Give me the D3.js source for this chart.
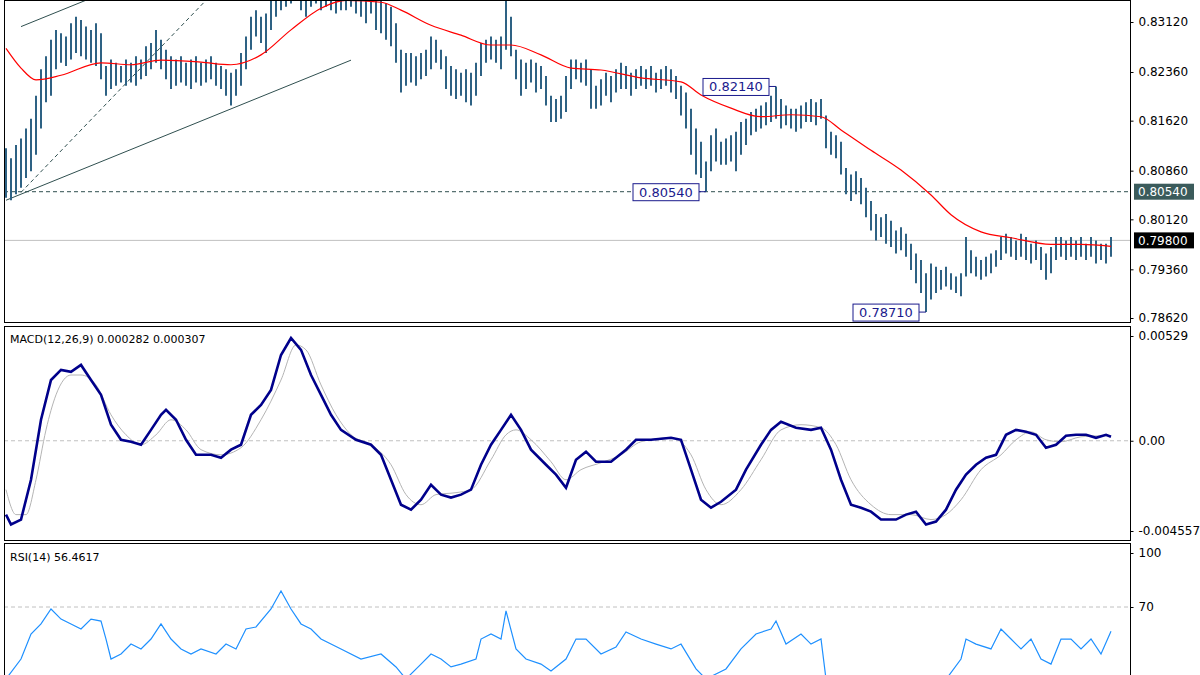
<!DOCTYPE html>
<html>
<head>
<meta charset="utf-8">
<style>
  body { margin:0; background:#fff; }
  text { font-family:"DejaVu Sans", sans-serif; font-size:11px; fill:#000; }
</style>
</head>
<body>
<div id="chart"></div>
<script src="https://d3js.org/d3.v7.min.js"></script>
<script>
// price bars: high / low per bar
const highs = [0.8120,0.8105,0.8125,0.8135,0.8150,0.8165,0.8200,0.8240,0.8260,0.8285,
  0.8300,0.8295,0.8290,0.8310,0.8320,0.8315,0.8305,0.8300,0.8310,0.8295,
  0.8245,0.8255,0.8250,0.8245,0.8255,0.8250,0.8260,0.8255,0.8275,0.8280,
  0.8300,0.8285,0.8270,0.8260,0.8255,0.8260,0.8250,0.8255,0.8260,0.8250,
  0.8255,0.8260,0.8250,0.8245,0.8240,0.8235,0.8240,0.8265,0.8290,0.8320,
  0.8330,0.8320,0.8325,0.8345,0.8360,0.8370,0.8375,0.8380,0.8385,0.8375,
  0.8370,0.8380,0.8385,0.8375,0.8370,0.8375,0.8370,0.8360,0.8365,0.8360,
  0.8365,0.8360,0.8355,0.8360,0.8355,0.8345,0.8340,0.8335,0.8310,0.8270,
  0.8265,0.8265,0.8260,0.8265,0.8270,0.8290,0.8285,0.8270,0.8260,0.8245,
  0.8240,0.8235,0.8240,0.8235,0.8250,0.8280,0.8285,0.8290,0.8285,0.8290,
  0.8350,0.8320,0.8270,0.8255,0.8250,0.8255,0.8250,0.8245,0.8230,0.8200,
  0.8195,0.8200,0.8230,0.8255,0.8255,0.8250,0.8255,0.8240,0.8215,0.8225,
  0.8235,0.8230,0.8240,0.8250,0.8245,0.8235,0.8240,0.8245,0.8240,0.8245,
  0.8235,0.8240,0.8245,0.8240,0.8230,0.8215,0.8205,0.8180,0.8150,0.8130,
  0.8100,0.8140,0.8150,0.8130,0.8135,0.8140,0.8145,0.8160,0.8165,0.8175,
  0.8180,0.8185,0.8190,0.8200,0.8214,0.8195,0.8185,0.8180,0.8180,0.8185,
  0.8190,0.8195,0.8190,0.8195,0.8170,0.8145,0.8140,0.8130,0.8090,0.8080,
  0.8085,0.8075,0.8060,0.8040,0.8020,0.8015,0.8020,0.8010,0.7995,0.8000,
  0.7990,0.7975,0.7960,0.7950,0.7930,0.7945,0.7940,0.7935,0.7940,0.7930,
  0.7925,0.7930,0.7985,0.7965,0.7955,0.7950,0.7955,0.7960,0.7965,0.7985,
  0.7990,0.7985,0.7980,0.7990,0.7985,0.7975,0.7980,0.7970,0.7960,0.7970,
  0.7985,0.7985,0.7980,0.7985,0.7980,0.7985,0.7975,0.7985,0.7980,0.7975,
  0.7975,0.7985];
const lows = [0.8045,0.8041,0.8050,0.8060,0.8075,0.8085,0.8110,0.8150,0.8190,0.8200,
  0.8240,0.8250,0.8245,0.8255,0.8265,0.8260,0.8255,0.8250,0.8245,0.8225,
  0.8200,0.8210,0.8215,0.8220,0.8215,0.8220,0.8215,0.8225,0.8230,0.8240,
  0.8250,0.8240,0.8225,0.8210,0.8215,0.8220,0.8215,0.8210,0.8220,0.8215,
  0.8220,0.8225,0.8215,0.8210,0.8200,0.8185,0.8200,0.8215,0.8240,0.8270,
  0.8290,0.8280,0.8265,0.8300,0.8320,0.8330,0.8335,0.8340,0.8345,0.8330,
  0.8320,0.8335,0.8340,0.8330,0.8335,0.8330,0.8325,0.8330,0.8330,0.8335,
  0.8325,0.8320,0.8310,0.8325,0.8300,0.8295,0.8285,0.8275,0.8250,0.8205,
  0.8215,0.8220,0.8215,0.8225,0.8230,0.8240,0.8250,0.8240,0.8210,0.8200,
  0.8195,0.8200,0.8190,0.8185,0.8200,0.8230,0.8250,0.8255,0.8250,0.8240,
  0.8270,0.8260,0.8225,0.8200,0.8210,0.8220,0.8205,0.8210,0.8185,0.8160,
  0.8160,0.8165,0.8175,0.8210,0.8225,0.8220,0.8215,0.8180,0.8180,0.8185,
  0.8200,0.8190,0.8205,0.8210,0.8210,0.8200,0.8210,0.8215,0.8210,0.8215,
  0.8205,0.8210,0.8215,0.8205,0.8195,0.8170,0.8150,0.8110,0.8080,0.8075,
  0.8054,0.8085,0.8100,0.8095,0.8095,0.8100,0.8085,0.8110,0.8125,0.8140,
  0.8145,0.8150,0.8155,0.8160,0.8165,0.8150,0.8155,0.8150,0.8145,0.8150,
  0.8160,0.8160,0.8155,0.8165,0.8120,0.8110,0.8105,0.8080,0.8050,0.8040,
  0.8050,0.8035,0.8015,0.7995,0.7980,0.7985,0.7975,0.7970,0.7960,0.7965,
  0.7955,0.7935,0.7915,0.7900,0.7871,0.7890,0.7900,0.7905,0.7910,0.7905,
  0.7900,0.7895,0.7925,0.7930,0.7925,0.7920,0.7925,0.7930,0.7940,0.7950,
  0.7960,0.7955,0.7950,0.7955,0.7950,0.7945,0.7950,0.7935,0.7920,0.7930,
  0.7950,0.7955,0.7950,0.7955,0.7950,0.7955,0.7950,0.7955,0.7945,0.7950,
  0.7945,0.7955];

// moving average: [bar index, value]
const maPts = [[0,0.8272],[3,0.8242],[6,0.8224],[11,0.8231],[19,0.8250],[25,0.8247],[31,0.8254],
  [39,0.8251],[45,0.8247],[51,0.8262],[57,0.8300],[63,0.8333],[68,0.8345],[75,0.8342],[79,0.8330],
  [85,0.8307],[91,0.8292],[97,0.8277],[101,0.8277],[107,0.8262],[113,0.8242],[119,0.8239],
  [127,0.8227],[135,0.8221],[139,0.8201],[145,0.8181],[151,0.8168],[157,0.8171],[163,0.8168],
  [167,0.8148],[173,0.8117],[179,0.8087],[185,0.8049],[189,0.8019],[195,0.7993],[201,0.7984],
  [209,0.7974],[215,0.7974],[221,0.7971]];

// MACD main and signal: [bar index, value]
const macdPts = [[0,-0.00373],[1,-0.00423],[3,-0.00398],[5,-0.00197],[7,0.00106],[9,0.00307],[11,0.00358],
  [13,0.00348],[15,0.00383],[17,0.00307],[19,0.00232],[21,0.00081],[23,0.00005],[25,-0.00005],[27,-0.00020],
  [29,0.00055],[31,0.00131],[32,0.00156],[34,0.00106],[36,0.00005],[38,-0.00071],[41,-0.00071],[43,-0.00086],
  [45,-0.00045],[47,-0.00020],[49,0.00131],[51,0.00181],[53,0.00257],[55,0.00433],[57,0.00519],[59,0.00459],
  [61,0.00332],[63,0.00232],[65,0.00131],[67,0.00055],[70,0.00005],[73,-0.00020],[75,-0.00071],[77,-0.00197],
  [79,-0.00323],[81,-0.00348],[83,-0.00298],[85,-0.00222],[87,-0.00272],[89,-0.00287],[91,-0.00272],[93,-0.00247],
  [95,-0.00121],[97,-0.00020],[99,0.00055],[101,0.00131],[103,0.00055],[105,-0.00045],[108,-0.00121],[110,-0.00171],
  [112,-0.00237],[114,-0.00096],[116,-0.00055],[118,-0.00106],[121,-0.00106],[124,-0.00045],[126,0.00005],
  [129,0.00005],[133,0.00015],[135,0.00005],[137,-0.00146],[139,-0.00298],[141,-0.00338],[143,-0.00308],
  [146,-0.00247],[148,-0.00146],[151,-0.00020],[153,0.00055],[155,0.00096],[158,0.00066],[161,0.00055],
  [163,0.00066],[165,-0.00045],[167,-0.00197],[169,-0.00323],[171,-0.00338],[173,-0.00358],[175,-0.00398],
  [178,-0.00398],[180,-0.00373],[182,-0.00358],[184,-0.00423],[186,-0.00408],[188,-0.00348],[190,-0.00247],
  [192,-0.00171],[194,-0.00121],[196,-0.00086],[198,-0.00071],[200,0.00030],[202,0.00055],[204,0.00045],
  [206,0.00030],[208,-0.00035],[210,-0.00020],[212,0.00025],[214,0.00030],[216,0.00030],[218,0.00015],
  [220,0.00030],[221,0.00020]];
const signalPts = [[0,-0.00247],[2,-0.00373],[4,-0.00373],[6,-0.00197],[8,0.00055],[10,0.00232],[13,0.00332],
  [15,0.00332],[18,0.00282],[21,0.00131],[24,0.00030],[27,-0.00020],[30,0.00030],[33,0.00106],[36,0.00055],
  [39,-0.00045],[43,-0.00071],[47,-0.00035],[51,0.00106],[55,0.00307],[58,0.00484],[60,0.00459],[63,0.00282],
  [66,0.00131],[69,0.00030],[73,-0.00020],[77,-0.00121],[80,-0.00272],[83,-0.00323],[86,-0.00272],[90,-0.00262],
  [93,-0.00247],[97,-0.00096],[100,0.00030],[102,0.00055],[105,0.00005],[109,-0.00106],[112,-0.00197],
  [115,-0.00146],[119,-0.00111],[123,-0.00071],[127,-0.00005],[133,0.00015],[137,-0.00071],[140,-0.00247],
  [143,-0.00323],[147,-0.00247],[151,-0.00096],[155,0.00055],[159,0.00081],[163,0.00066],[166,-0.00020],
  [169,-0.00197],[173,-0.00323],[177,-0.00373],[181,-0.00373],[185,-0.00398],[188,-0.00373],[191,-0.00298],
  [195,-0.00146],[199,-0.00071],[202,0.00005],[205,0.00045],[208,0.00005],[211,-0.00005],[215,0.00020],
  [219,0.00025],[221,0.00025]];

// RSI(14): [bar index, value]
const rsiPts = [[0,30.0],[3,41.1],[5,55.0],[7,60.6],[9,68.9],[11,63.3],[13,60.6],[15,57.8],[17,63.3],[19,62.2],
  [20,52.2],[21,41.1],[23,43.9],[25,49.4],[27,46.7],[29,52.2],[31,60.6],[33,52.2],[35,46.7],[37,43.9],
  [39,46.7],[42,43.9],[44,49.4],[46,46.7],[48,57.8],[50,58.9],[53,68.9],[55,78.9],[57,68.9],[59,60.6],
  [61,57.8],[63,52.2],[67,46.7],[71,41.1],[75,43.9],[78,36.7],[80,30.0],[83,38.3],[85,43.9],[87,41.1],
  [89,36.7],[91,38.3],[94,41.1],[95,52.2],[97,55.0],[99,52.2],[100,67.8],[102,46.7],[104,41.1],[107,38.3],
  [109,34.4],[112,41.1],[114,52.2],[116,52.2],[119,43.9],[122,47.8],[124,56.1],[127,52.2],[130,49.4],[133,46.7],
  [135,49.4],[138,35.6],[140,30.0],[144,35.6],[147,46.7],[150,55.0],[153,57.8],[154,62.2],[156,49.4],[159,55.0],
  [161,49.4],[163,52.2],[164,30.0],[169,20.0],[179,15.0],[187,26.0],[191,41.1],[192,52.2],[194,49.4],
  [197,46.7],[199,57.8],[201,52.2],[203,46.7],[205,52.2],[207,41.1],[209,38.3],[211,52.2],[213,52.2],
  [215,46.7],[217,52.2],[219,43.9],[221,56.5]];

const priceTicks = [0.8312,0.8236,0.8162,0.8086,0.8012,0.7936,0.7862];

const W = 1200, H = 675, L = 4, R = 1130;
const svg = d3.select("#chart").append("svg").attr("width", W).attr("height", H);

const x = d3.scaleLinear().domain([0, 221]).range([6, 1111]);
const yP = d3.scaleLinear().domain([0.7862, 0.8312]).range([318, 22]);
const yM = d3.scaleLinear().domain([-0.004557, 0.00529]).range([531, 336]);
const yR = d3.scaleLinear().domain([70, 100]).range([607, 553]);

const panels = [[0.5, 322.5], [326.5, 540.5], [543.5, 690]];
panels.forEach((p, i) => {
  svg.append("clipPath").attr("id", "c" + i).append("rect")
    .attr("x", L).attr("y", p[0]).attr("width", R - L).attr("height", p[1] - p[0]);
});

// price panel
const gp = svg.append("g").attr("clip-path", "url(#c0)");
gp.append("line").attr("x1", L).attr("x2", R).attr("y1", yP(0.798)).attr("y2", yP(0.798))
  .attr("stroke", "#c0c0c0");
gp.append("line").attr("x1", L).attr("x2", R).attr("y1", yP(0.8054)).attr("y2", yP(0.8054))
  .attr("stroke", "#2f4f4f").attr("stroke-dasharray", "4,3");
// trend channel
const slope = (0.8254 - 0.8041) / 69;
gp.append("line").attr("x1", x(0)).attr("y1", yP(0.8041)).attr("x2", x(69)).attr("y2", yP(0.8041 + slope * 69))
  .attr("stroke", "#2f4f4f");
gp.append("line").attr("x1", x(3)).attr("y1", yP(0.8305)).attr("x2", x(18)).attr("y2", yP(0.8305 + slope * 15))
  .attr("stroke", "#2f4f4f");
gp.append("line").attr("x1", x(3)).attr("y1", yP(0.8053)).attr("x2", x(40)).attr("y2", yP(0.8345))
  .attr("stroke", "#2f4f4f").attr("stroke-dasharray", "4,3");

gp.selectAll("line.bar").data(highs).join("line").attr("class", "bar")
  .attr("x1", (d, i) => x(i)).attr("x2", (d, i) => x(i))
  .attr("y1", d => yP(d)).attr("y2", (d, i) => yP(lows[i]))
  .attr("stroke", "#2e6284").attr("stroke-width", 2);

gp.append("path").datum(maPts)
  .attr("d", d3.line().x(d => x(d[0])).y(d => yP(d[1])).curve(d3.curveMonotoneX))
  .attr("fill", "none").attr("stroke", "#ff0000").attr("stroke-width", 1.2);

// value labels
const marks = [[154, 0.8214, "0.82140"], [140, 0.8054, "0.80540"], [184, 0.7871, "0.78710"]];
marks.forEach(m => {
  const bx = x(m[0]) - 73, by = yP(m[1]) - 8;
  gp.append("line").attr("x1", bx + 66).attr("x2", x(m[0])).attr("y1", yP(m[1])).attr("y2", yP(m[1]))
    .attr("stroke", "#1a1a8c");
  gp.append("rect").attr("x", bx).attr("y", by).attr("width", 66).attr("height", 17)
    .attr("fill", "#fff").attr("stroke", "#1a1a8c");
  gp.append("text").attr("x", bx + 33).attr("y", by + 13).attr("text-anchor", "middle")
    .style("font-size", "13px").style("fill", "#1a1a8c").text(m[2]);
});

// macd panel
const gm = svg.append("g").attr("clip-path", "url(#c1)");
gm.append("line").attr("x1", L).attr("x2", R).attr("y1", yM(0)).attr("y2", yM(0))
  .attr("stroke", "#c0c0c0").attr("stroke-dasharray", "4,3");
gm.append("path").datum(signalPts)
  .attr("d", d3.line().x(d => x(d[0])).y(d => yM(d[1])).curve(d3.curveMonotoneX))
  .attr("fill", "none").attr("stroke", "#b4b4b4").attr("stroke-width", 1);
gm.append("path").datum(macdPts)
  .attr("d", d3.line().x(d => x(d[0])).y(d => yM(d[1])))
  .attr("fill", "none").attr("stroke", "#00008b").attr("stroke-width", 2.6);
svg.append("text").attr("x", 10).attr("y", 343).text("MACD(12,26,9) 0.000282 0.000307");

// rsi panel
const gr = svg.append("g").attr("clip-path", "url(#c2)");
gr.append("line").attr("x1", L).attr("x2", R).attr("y1", yR(70)).attr("y2", yR(70))
  .attr("stroke", "#c0c0c0").attr("stroke-dasharray", "4,3");
gr.append("path").datum(rsiPts)
  .attr("d", d3.line().x(d => x(d[0])).y(d => yR(d[1])))
  .attr("fill", "none").attr("stroke", "#1e90ff").attr("stroke-width", 1.2);
svg.append("text").attr("x", 10).attr("y", 561).text("RSI(14) 56.4617");

// panel frames
panels.forEach(p => {
  svg.append("rect").attr("x", L + 0.5).attr("y", p[0]).attr("width", R - L).attr("height", p[1] - p[0])
    .attr("fill", "none").attr("stroke", "#000").attr("stroke-width", 1);
});

// right axes
const axP = svg.append("g").attr("transform", `translate(${R + 0.5},0)`)
  .call(d3.axisRight(yP).tickValues(priceTicks).tickFormat(d3.format(".5f")).tickSize(3));
const axM = svg.append("g").attr("transform", `translate(${R + 0.5},0)`)
  .call(d3.axisRight(yM).tickValues([0.00529, 0, -0.004557])
    .tickFormat(d => d === 0 ? "0.00" : (d > 0 ? "0.00529" : "-0.004557")).tickSize(3));
const axR = svg.append("g").attr("transform", `translate(${R + 0.5},0)`)
  .call(d3.axisRight(yR).tickValues([100, 70]).tickSize(3));
[axP, axM, axR].forEach(a => {
  a.select(".domain").remove();
  a.selectAll("text").attr("x", 8).style("font-size", "12px").style("font-family", "DejaVu Sans");
});

// price tags on axis
[[0.8054, "#3b5b5b", "0.80540"], [0.798, "#000", "0.79800"]].forEach(t => {
  svg.append("rect").attr("x", R + 4).attr("y", yP(t[0]) - 8).attr("width", 60).attr("height", 16).attr("fill", t[1]);
  svg.append("text").attr("x", R + 8).attr("y", yP(t[0]) + 4.5).style("fill", "#fff")
    .style("font-size", "12px").text(t[2]);
});
</script>
</body>
</html>
